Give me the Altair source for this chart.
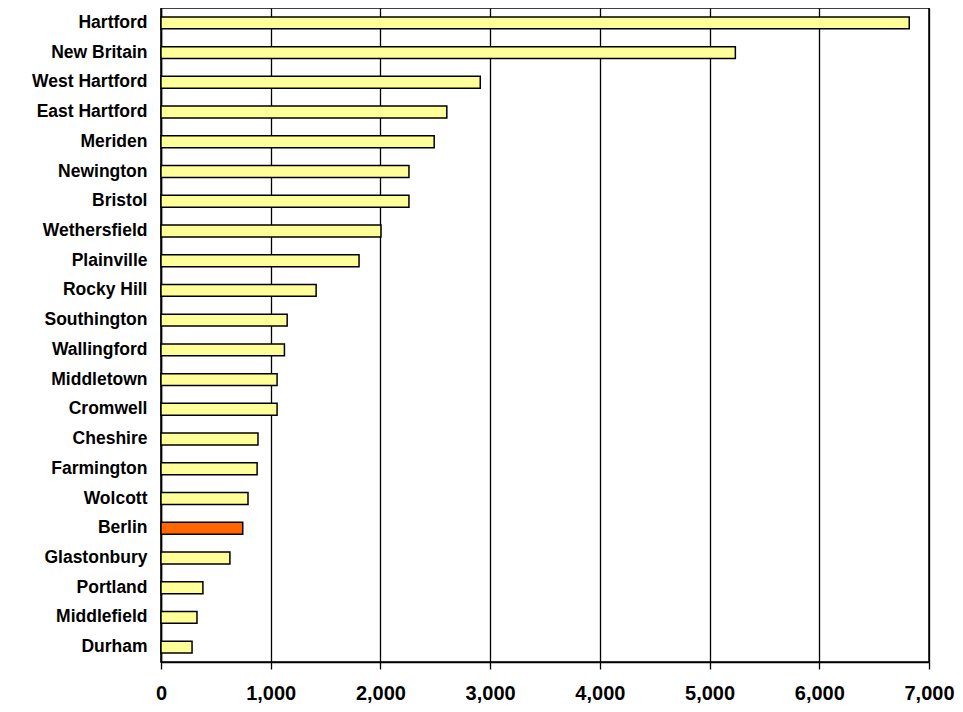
import pandas as pd
import altair as alt

# towns, top to bottom
towns = ["Hartford", "New Britain", "West Hartford", "East Hartford", "Meriden",
         "Newington", "Bristol", "Wethersfield", "Plainville", "Rocky Hill",
         "Southington", "Wallingford", "Middletown", "Cromwell", "Cheshire",
         "Farmington", "Wolcott", "Berlin", "Glastonbury", "Portland",
         "Middlefield", "Durham"]
values = [6820, 5235, 2910, 2605, 2490,
          2260, 2260, 2005, 1805, 1414,
          1150, 1125, 1058, 1058, 884,
          876, 793, 745, 628, 382,
          328, 283]
highlight = "Berlin"

df = pd.DataFrame({"town": towns, "value": values})
df["group"] = ["hl" if t == highlight else "other" for t in towns]

chart = alt.Chart(df).mark_bar(stroke="black", strokeWidth=1.5, strokeOpacity=1, opacity=1).encode(
    y=alt.Y("town:N", sort=towns, title=None,
            scale=alt.Scale(paddingInner=0.6, paddingOuter=0.3),
            axis=alt.Axis(ticks=False, domainColor="black", domainWidth=1.5,
                          labelFont="Liberation Sans",
                          labelFontSize=17.5, labelFontWeight="bold", labelColor="black",
                          labelPadding=14)),
    x=alt.X("value:Q", title=None,
            scale=alt.Scale(domain=[0, 7000], nice=False),
            axis=alt.Axis(values=list(range(0, 7001, 1000)), format=",.0f",
                          grid=True, gridColor="black", gridOpacity=1, gridWidth=1.3,
                          domainColor="black", domainWidth=1.5,
                          tickColor="black", tickSize=7, tickWidth=1.3,
                          labelFlush=False,
                          labelFont="Liberation Sans", labelFontSize=20,
                          labelFontWeight="bold", labelColor="black",
                          labelPadding=14)),
    color=alt.Color("group:N", legend=None,
                    scale=alt.Scale(domain=["other", "hl"], range=["#FFFF99", "#FF6600"])),
).properties(
    width=768,
    height=654,
    autosize=alt.AutoSizeParams(type="none"),
    padding={"left": 153, "top": 0, "right": 26, "bottom": 42},
).configure_view(stroke="black", strokeWidth=1.5)

chart.save("out.html", embed_options={"renderer": "svg", "actions": False})
